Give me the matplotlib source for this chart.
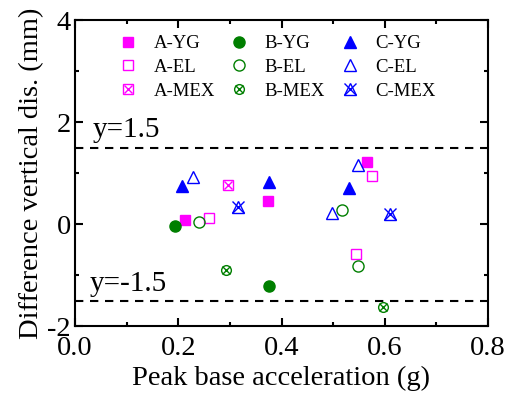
import matplotlib
matplotlib.use("Agg")
import matplotlib.pyplot as plt
from matplotlib.legend_handler import HandlerTuple
from matplotlib.ticker import MultipleLocator

plt.rcParams['font.family'] = ['Liberation Serif', 'DejaVu Serif']
plt.rcParams['axes.unicode_minus'] = False

# data
a_yg_x = [0.213, 0.373, 0.566]; a_yg_y = [0.08, 0.45, 1.22]
a_el_x = [0.259, 0.575, 0.545]; a_el_y = [0.12, 0.94, -0.59]
a_mex_x = [0.296]; a_mex_y = [0.77]
b_yg_x = [0.194, 0.375]; b_yg_y = [-0.03, -1.21]
b_el_x = [0.240, 0.518, 0.549]; b_el_y = [0.045, 0.27, -0.82]
b_mex_x = [0.293, 0.596]; b_mex_y = [-0.90, -1.62]
c_yg_x = [0.207, 0.375, 0.530]; c_yg_y = [0.75, 0.83, 0.71]
c_el_x = [0.229, 0.549, 0.497]; c_el_y = [0.93, 1.16, 0.21]
c_mex_x = [0.315, 0.610]; c_mex_y = [0.33, 0.20]
limits = [1.5, -1.5]
limit_labels = ['y=1.5', 'y=-1.5']

MAG = '#ff00ff'
GRN = '#007f00'
BLU = '#0000ff'

fig = plt.figure(figsize=(5.11, 3.94), dpi=100)
ax = fig.add_axes([75/511, 1-326/394, (488-75)/511, (326-20)/394])

for y in limits:
    ax.axhline(y, color='black', ls=(0, (4, 3.2)), lw=1.5, zorder=1)
ax.text(0.035, 1.71, limit_labels[0], fontsize=21, ha='left', va='baseline')
ax.text(0.029, -1.31, limit_labels[1], fontsize=21, ha='left', va='baseline')

ms = 7
h_ayg, = ax.plot(a_yg_x, a_yg_y, 's', color=MAG, ms=ms, ls='none')
h_ael, = ax.plot(a_el_x, a_el_y, 's', mfc='none', mec=MAG, ms=ms, mew=1.0, ls='none')
h_amex1, = ax.plot(a_mex_x, a_mex_y, 's', mfc='none', mec=MAG, ms=ms, mew=1.0, ls='none')
h_amex2, = ax.plot(a_mex_x, a_mex_y, 'x', color=MAG, ms=ms-1, mew=1.0, ls='none')
h_byg, = ax.plot(b_yg_x, b_yg_y, 'o', color=GRN, ms=ms+1, ls='none')
h_bel, = ax.plot(b_el_x, b_el_y, 'o', mfc='none', mec=GRN, ms=ms+1, mew=1.0, ls='none')
h_bmex1, = ax.plot(b_mex_x, b_mex_y, 'o', mfc='none', mec=GRN, ms=ms, mew=1.0, ls='none')
h_bmex2, = ax.plot(b_mex_x, b_mex_y, 'x', color=GRN, ms=ms-1.5, mew=1.0, ls='none')
h_cyg, = ax.plot(c_yg_x, c_yg_y, '^', color=BLU, ms=ms+2, ls='none')
h_cel, = ax.plot(c_el_x, c_el_y, '^', mfc='none', mec=BLU, ms=ms+2, mew=1.0, ls='none')
h_cmex1, = ax.plot(c_mex_x, c_mex_y, '^', mfc='none', mec=BLU, ms=ms+1, mew=1.0, ls='none')
h_cmex2, = ax.plot(c_mex_x, c_mex_y, 'x', color=BLU, ms=ms+2, mew=1.0, ls='none')

handles = [h_ayg, h_ael, (h_amex1, h_amex2),
           h_byg, h_bel, (h_bmex1, h_bmex2),
           h_cyg, h_cel, (h_cmex1, h_cmex2)]
labels = ['A-YG', 'A-EL', 'A-MEX', 'B-YG', 'B-EL', 'B-MEX', 'C-YG', 'C-EL', 'C-MEX']
leg = ax.legend(handles, labels, ncol=3, frameon=False, loc='upper left',
                bbox_to_anchor=(0.0885, 0.975), fontsize=13.5,
                handler_map={tuple: HandlerTuple(ndivide=1, pad=0)},
                handlelength=1.0, handletextpad=0.85, columnspacing=0.8,
                labelspacing=0.35, borderaxespad=0)

ax.set_xlim(0, 0.8)
ax.set_ylim(-2, 4)
ax.xaxis.set_major_locator(MultipleLocator(0.2))
ax.xaxis.set_minor_locator(MultipleLocator(0.1))
ax.yaxis.set_major_locator(MultipleLocator(2))
ax.yaxis.set_minor_locator(MultipleLocator(1))
ax.tick_params(which='both', direction='in', top=True, right=True, labelsize=20.5, width=1.5)
ax.tick_params(which='major', length=6)
ax.tick_params(which='minor', length=3)
ax.tick_params(axis='x', pad=7)
ax.tick_params(axis='y', pad=3)
for s in ax.spines.values():
    s.set_linewidth(1.5)

ax.set_xlabel('Peak base acceleration (g)', fontsize=20.5, labelpad=4)
ax.set_ylabel('Difference vertical dis. (mm)', fontsize=20.5, labelpad=2)

fig.savefig('out.png', dpi=100)
